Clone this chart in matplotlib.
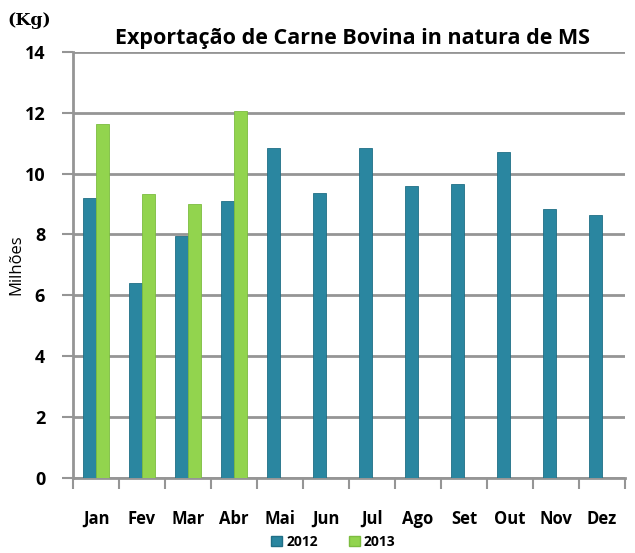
import numpy as np
import matplotlib.pyplot as plt
from matplotlib.patches import Patch

meses = ['Jan', 'Fev', 'Mar', 'Abr', 'Mai', 'Jun', 'Jul', 'Ago', 'Set', 'Out', 'Nov', 'Dez']
v2012 = [9.2, 6.42, 7.94, 9.09, 10.85, 9.35, 10.85, 9.6, 9.65, 10.7, 8.85, 8.65]
v2013 = [11.64, 9.34, 9.01, 12.07]

cor_2012 = '#2a86a0'
cor_2013 = '#92d44e'
grid_cor = '#959595'

plt.rcParams['font.family'] = ['Open Sans', 'DejaVu Sans']

fig = plt.figure(figsize=(6.35, 5.53), dpi=100)
ax = fig.add_axes([0.115, 0.136, 0.869, 0.770])

x = np.arange(len(meses))
w = 0.28
ax.bar(x - w / 2, v2012, w, color=cor_2012, edgecolor='#206f86', linewidth=0.6, zorder=3)
ax.bar(np.arange(len(v2013)) + w / 2, v2013, w, color=cor_2013, edgecolor='#7cbc40', linewidth=0.6, zorder=3)

ax.set_xlim(-0.5, len(meses) - 0.5)
ax.set_ylim(0, 14)
ax.set_yticks(range(0, 15, 2))
ax.grid(axis='y', color=grid_cor, linewidth=2, zorder=0)
ax.set_axisbelow(True)

for s in ['top', 'right']:
    ax.spines[s].set_visible(False)
for s in ['left', 'bottom']:
    ax.spines[s].set_color(grid_cor)
    ax.spines[s].set_linewidth(2)

ax.set_xticks(np.arange(len(meses) + 1) - 0.5)
ax.set_xticklabels([])
ax.set_xticks(x, minor=True)
ax.set_xticklabels(meses, minor=True, fontweight='bold', fontsize=12)
ax.tick_params(axis='x', which='major', length=8, width=1.5, color=grid_cor)
ax.tick_params(axis='x', which='minor', length=0, pad=23)
ax.tick_params(axis='y', length=8, width=1.5, color=grid_cor, labelsize=13, pad=12)
for t in ax.get_yticklabels():
    t.set_fontweight('bold')

ax.set_ylabel('Milhões', fontsize=12, labelpad=0)
fig.text(0.555, 0.92, 'Exportação de Carne Bovina in natura de MS', ha='center',
         fontsize=15.5, fontweight='bold')
fig.text(0.012, 0.955, '(Kg)', fontsize=12.5, fontweight='bold', family='DejaVu Serif')

handles = [Patch(facecolor=cor_2012, edgecolor='#206f86'), Patch(facecolor=cor_2013, edgecolor='#7cbc40')]
fig.legend(handles, ['2012', '2013'], loc='lower center', bbox_to_anchor=(0.525, -0.015), ncol=2,
           frameon=False, prop={'weight': 'bold', 'size': 10}, handlelength=0.8, handleheight=0.8,
           handletextpad=0.3, columnspacing=2.2)

fig.savefig('out.png', dpi=100)
